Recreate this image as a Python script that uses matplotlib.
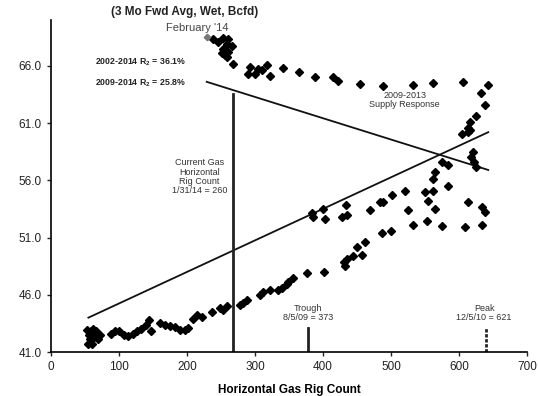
import matplotlib
matplotlib.use("Agg")
import matplotlib.pyplot as plt

plt.rcParams['font.family'] = ['Liberation Sans', 'DejaVu Sans']

# Horizontal gas rig count vs. production (3 Mo Fwd Avg, Wet, Bcfd)
rig_count = [
    53, 56, 57, 60, 63, 66, 69, 72, 54, 62, 59,
    88, 94, 100, 107, 113, 121, 126, 132, 140, 144, 147,
    160, 168, 175, 182, 190, 197, 201, 209, 215, 222,
    237, 249, 253, 259, 278, 282, 288, 307, 312, 322, 334, 340, 347, 349,
    356, 376, 401, 432, 431, 435, 444, 457, 450, 462, 487, 500,
    532, 553, 575, 609, 634, 525, 565, 634, 638, 613, 554,
    384, 385, 400, 403, 428, 435, 434, 469, 484, 488, 501, 521, 550, 562,
    584, 562, 565, 575, 584,
    604, 613, 616, 621, 618, 622, 625, 625, 616, 613, 638, 632, 643,
    606, 562, 532, 488, 454, 422, 415, 388, 365, 341, 322, 318, 310, 304,
    300, 290, 293, 268, 259, 256, 251, 260, 266, 253, 259, 260, 253, 246, 238,
]
production = [
    42.9, 42.5, 42.1, 41.7, 42.3, 42.8, 42.1, 42.5, 41.7, 43.0, 42.8,
    42.6, 42.8, 42.8, 42.5, 42.4, 42.6, 42.8, 43.0, 43.4, 43.8, 42.8,
    43.5, 43.4, 43.3, 43.2, 42.9, 42.9, 43.1, 43.9, 44.2, 44.1,
    44.5, 44.8, 44.7, 45.0, 45.1, 45.3, 45.5, 46.0, 46.2, 46.4, 46.4, 46.6, 46.9, 47.1,
    47.5, 47.9, 48.0, 48.5, 48.9, 49.1, 49.4, 49.5, 50.2, 50.6, 51.4, 51.6,
    52.1, 52.4, 52.0, 51.9, 52.1, 53.4, 53.5, 53.7, 53.2, 54.1, 54.2,
    53.1, 52.8, 53.5, 52.6, 52.8, 53.0, 53.8, 53.4, 54.1, 54.1, 54.7, 55.1, 55.0, 55.1,
    55.5, 56.1, 56.7, 57.6, 57.3,
    60.0, 60.2, 60.4, 58.5, 58.0, 57.6, 57.2, 61.6, 61.1, 60.6, 62.6, 63.6, 64.3,
    64.6, 64.5, 64.3, 64.2, 64.4, 64.7, 65.0, 65.0, 65.5, 65.8, 65.1, 66.1, 65.6, 65.7,
    65.3, 65.3, 65.9, 66.2, 66.8, 66.9, 67.1, 67.2, 67.7, 67.5, 67.9, 68.3, 68.4, 68.1, 68.3,
]
# latest month (February '14)
latest_rig, latest_prod = 229, 68.5

# trend lines (end points)
trend_2002_x = [55, 643]
trend_2002_y = [44.0, 60.2]
trend_2009_x = [229, 643]
trend_2009_y = [64.6, 56.9]

current_rigs = 267
trough_rigs = 378
peak_rigs = 640

fig = plt.figure(figsize=(5.38, 3.96), dpi=100)
ax = fig.add_axes([51 / 538, 44 / 396, 476 / 538, 332 / 396])

ax.plot(trend_2002_x, trend_2002_y, color='#111111', lw=1.3, zorder=2)
ax.plot(trend_2009_x, trend_2009_y, color='#111111', lw=1.3, zorder=2)

ax.plot([current_rigs, current_rigs], [41, 63.5], color='#222222', lw=2.0, zorder=2)
ax.plot([trough_rigs, trough_rigs], [41, 43.1], color='#222222', lw=2.0, zorder=2)
ax.plot([peak_rigs, peak_rigs], [41, 43.1], color='#222222', lw=2.0, ls=(0, (1.2, 0.6)), zorder=2)

ax.plot(rig_count, production, ls='none', marker='D', ms=3.7, color='black', zorder=3)
ax.plot([latest_rig], [latest_prod], ls='none', marker='D', ms=3.3, color='#777777', zorder=3)

ax.set_xlim(0, 700)
ax.set_ylim(41, 70)
ax.set_xticks(range(0, 701, 100))
ax.set_yticks([41, 46, 51, 56, 61, 66])
ax.set_yticklabels(['41.0', '46.0', '51.0', '56.0', '61.0', '66.0'])
ax.tick_params(direction='out', length=3, width=1, labelsize=8.5, colors='#222222')
for side in ['top', 'right']:
    ax.spines[side].set_visible(False)
for side in ['left', 'bottom']:
    ax.spines[side].set_linewidth(1.2)

ax.set_xlabel('Horizontal Gas Rig Count', fontsize=8.5, fontweight='bold', labelpad=8)

fig.text(185 / 538, 1 - 12 / 396, '(3 Mo Fwd Avg, Wet, Bcfd)', ha='center', va='center',
         fontsize=8.5, fontweight='bold', color='#222222')
fig.text(197 / 538, 1 - 28 / 396, "February '14", ha='center', va='center',
         fontsize=8, color='#444444')

kw = dict(fontsize=6.3, fontweight='bold', color='#222222', ha='left', va='center')
fig.text(95 / 538, 1 - 62 / 396, '2002-2014 R$_\\mathregular{2}$ = 36.1%', **kw)
fig.text(95 / 538, 1 - 83 / 396, '2009-2014 R$_\\mathregular{2}$ = 25.8%', **kw)

note = dict(fontsize=6.5, color='#333333', ha='center', va='center', linespacing=1.05)
ax.text(218, 56.3, 'Current Gas\nHorizontal\nRig Count\n1/31/14 = 260', **note)
ax.text(520, 63.0, '2009-2013\nSupply Response', **note)
ax.text(378, 44.4, 'Trough\n8/5/09 = 373', **note)
ax.text(637, 44.4, 'Peak\n12/5/10 = 621', **note)

fig.savefig('out.png', dpi=100)
